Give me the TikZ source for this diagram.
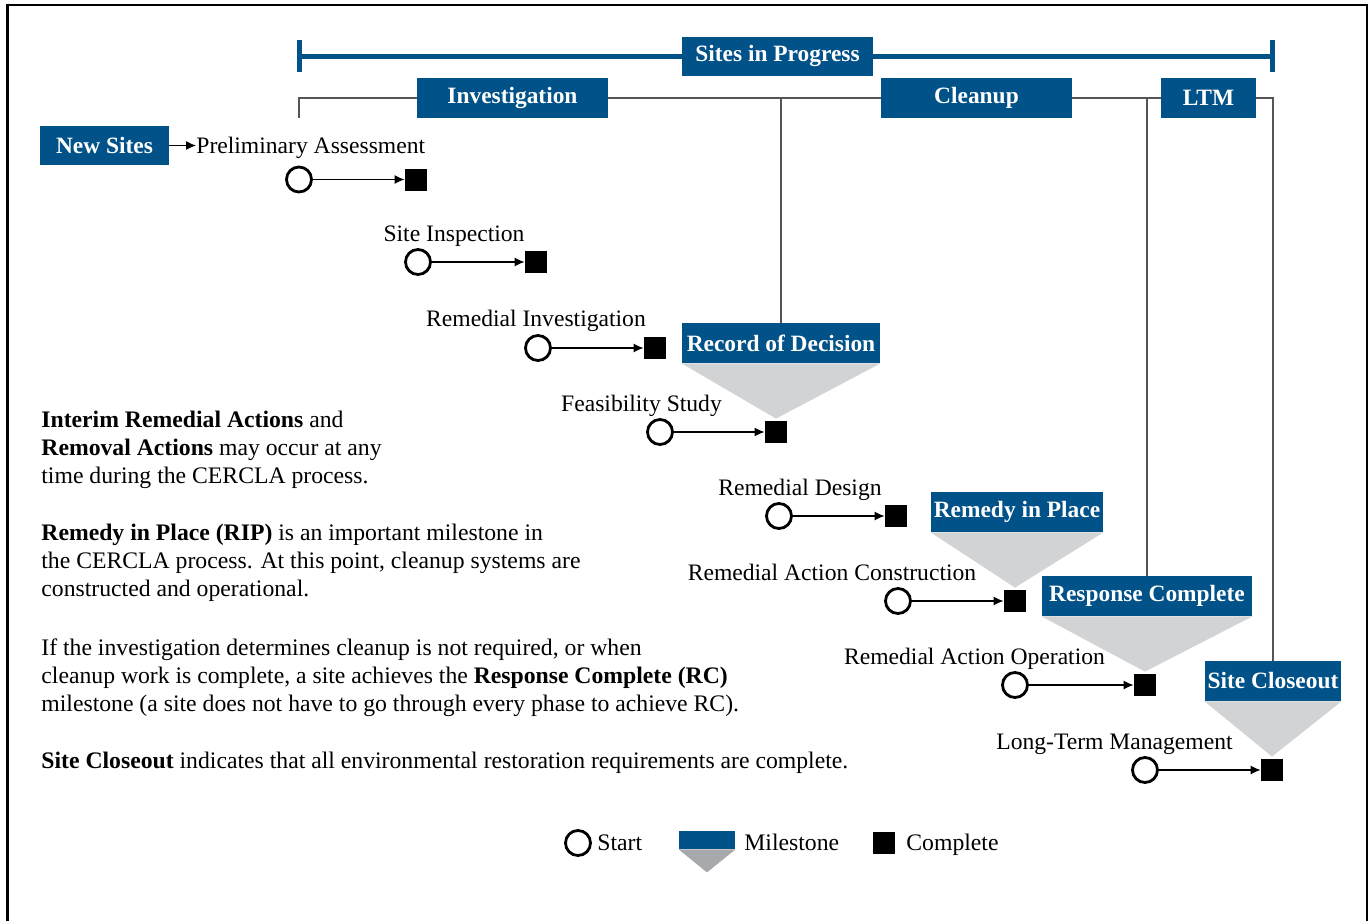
\documentclass[tikz,border=0pt]{standalone}
\usepackage{fontspec}
\setmainfont{Liberation Serif}
\usetikzlibrary{arrows.meta}
\definecolor{epablue}{RGB}{0,82,136}
\definecolor{trigray}{RGB}{209,211,212}
\definecolor{leggray}{RGB}{167,169,172}
\definecolor{linegray}{RGB}{85,85,85}
\pgfdeclarelayer{bg}
\pgfsetlayers{bg,main}
\begin{document}
\begin{tikzpicture}[x=0.5pt,y=-0.5pt,
  bluebox/.style={fill=epablue, text=white, font=\fontsize{11.7}{13}\selectfont\bfseries, inner sep=0pt, minimum height=20pt},
  startc/.style={circle, draw=black, line width=1.4pt, fill=white, minimum size=12.5pt, inner sep=0pt},
  donesq/.style={rectangle, fill=black, minimum size=11pt, inner sep=0pt},
  rowlbl/.style={font=\fontsize{11.8}{13}\selectfont, inner sep=0pt, anchor=base},
  bodytxt/.style={font=\fontsize{11.85}{13}\selectfont, inner sep=0pt, anchor=base west},
  rowarrow/.style={draw=black, line width=0.6pt, -{Latex[length=5pt,width=4.5pt]}},
  phaseline/.style={draw=linegray, line width=0.7pt},
  sipline/.style={draw=epablue, line width=2.5pt}
]
\useasboundingbox (0,0) rectangle (1372,921);
\draw[line width=1.2pt] (7.5,930) -- (7.5,5) -- (1367,5) -- (1367,930);

% top bars
\node[bluebox, minimum width=95.5pt, minimum height=19.5pt] (sip) at (777.5,56) {Sites in Progress};
\coordinate (sipL) at (299,56);
\coordinate (sipR) at (1272,56);
\coordinate (sipLt) at (299,40);
\coordinate (sipLb) at (299,72);
\coordinate (sipRt) at (1272,40);
\coordinate (sipRb) at (1272,72);

\node[bluebox, minimum width=95.5pt] (inv) at (512.5,98) {Investigation};
\node[bluebox, minimum width=95.5pt] (clean) at (976.5,98) {Cleanup};
\node[bluebox, minimum width=47.5pt] (ltm) at (1208.5,98) {LTM};
\coordinate (ph0) at (299,118);
\coordinate (ph1) at (299,98);

% new sites
\node[bluebox, minimum width=64.5pt, minimum height=19.5pt] (new) at (104.5,145.5) {New Sites};
\node[font=\fontsize{11.8}{13}\selectfont, inner sep=0pt, anchor=base west] (l1) at (196,153) {Preliminary Assessment};

% rows
\node[startc] (c1) at (299,179.5) {};
\node[donesq] (s1) at (416,179.5) {};
\node[startc] (c2) at (418,262) {};
\node[donesq] (s2) at (536,262) {};
\node[rowlbl] (l2) at (454,241) {Site Inspection};
\node[startc] (c3) at (538,348) {};
\node[donesq] (s3) at (655,348) {};
\node[rowlbl] (l3) at (536,326) {Remedial Investigation};
\node[startc] (c4) at (660,432) {};
\node[donesq] (s4) at (776,432) {};
\node[rowlbl] (l4) at (641.5,411) {Feasibility Study};
\node[startc] (c5) at (779,516) {};
\node[donesq] (s5) at (896,516) {};
\node[rowlbl] (l5) at (800,495) {Remedial Design};
\node[startc] (c6) at (898,601) {};
\node[donesq] (s6) at (1015,601) {};
\node[rowlbl] (l6) at (832,580) {Remedial Action Construction};
\node[startc] (c7) at (1015,685) {};
\node[donesq] (s7) at (1145,685) {};
\node[rowlbl] (l7) at (974.5,664) {Remedial Action Operation};
\node[startc] (c8) at (1145,770) {};
\node[donesq] (s8) at (1272,770) {};
\node[rowlbl] (l8) at (1114.5,749) {Long-Term Management};

\foreach \i in {1,...,8} {\draw[rowarrow] (c\i) -- (s\i);}
\draw[rowarrow] (new.east) -- (l1.west |- new.east);

% milestones
\node[bluebox, minimum width=99pt] (rod) at (781,343) {Record of Decision};
\node[bluebox, minimum width=86pt] (rip) at (1017,512) {Remedy in Place};
\node[bluebox, minimum width=105pt] (rc) at (1147,596) {Response Complete};
\node[bluebox, minimum width=68pt] (sc) at (1273,681) {Site Closeout};

\begin{pgfonlayer}{bg}
\draw[sipline] (sipL) -- (sipR);
\draw[sipline] (sipLt) -- (sipLb);
\draw[sipline] (sipRt) -- (sipRb);
\draw[phaseline] (ph0) -- (ph1) -- (sc.north |- ph1) -- (sc.north);
\draw[phaseline] (rod.north |- ph1) -- (rod.north);
\draw[phaseline] (rc.north |- ph1) -- (rc.north);
\fill[trigray] (rod.south west) -- (rod.south east) -- ([yshift=1pt]s4.north) -- cycle;
\fill[trigray] (rip.south west) -- (rip.south east) -- ([yshift=1pt]s6.north) -- cycle;
\fill[trigray] (rc.south west) -- (rc.south east) -- ([yshift=1pt]s7.north) -- cycle;
\fill[trigray] (sc.south west) -- (sc.south east) -- ([yshift=1pt]s8.north) -- cycle;
\end{pgfonlayer}

% left text
\node[bodytxt] (t1) at (41,427) {\textbf{Interim Remedial Actions} and};
\node[bodytxt] (t2) at (41,455) {\textbf{Removal Actions} may occur at any};
\node[bodytxt] (t3) at (41,483) {time during the CERCLA process.};
\node[bodytxt] (t4) at (41,540) {\textbf{Remedy in Place (RIP)} is an important milestone in};
\node[bodytxt] (t5) at (41,568) {the CERCLA process. At this point, cleanup systems are};
\node[bodytxt] (t6) at (41,596) {constructed and operational.};
\node[bodytxt] (t7) at (41,655) {If the investigation determines cleanup is not required, or when};
\node[bodytxt] (t8) at (41,683) {cleanup work is complete, a site achieves the \textbf{Response Complete (RC)}};
\node[bodytxt] (t9) at (41,711) {milestone (a site does not have to go through every phase to achieve RC).};
\node[bodytxt] (t10) at (41,768) {\textbf{Site Closeout} indicates that all environmental restoration requirements are complete.};

% legend
\node[startc] (lgc) at (578,843) {};
\node[bodytxt] (lgct) at (597,850) {Start};
\node[rectangle, fill=epablue, minimum width=28pt, minimum height=9pt, inner sep=0pt] (lgm) at (707,840) {};
\fill[leggray] (lgm.south west) -- (lgm.south east) -- ([yshift=-11.5pt]lgm.south) -- cycle;
\node[bodytxt] (lgmt) at (744,850) {Milestone};
\node[donesq] (lgs) at (884,843) {};
\node[bodytxt] (lgst) at (906,850) {Complete};
\end{tikzpicture}
\end{document}
